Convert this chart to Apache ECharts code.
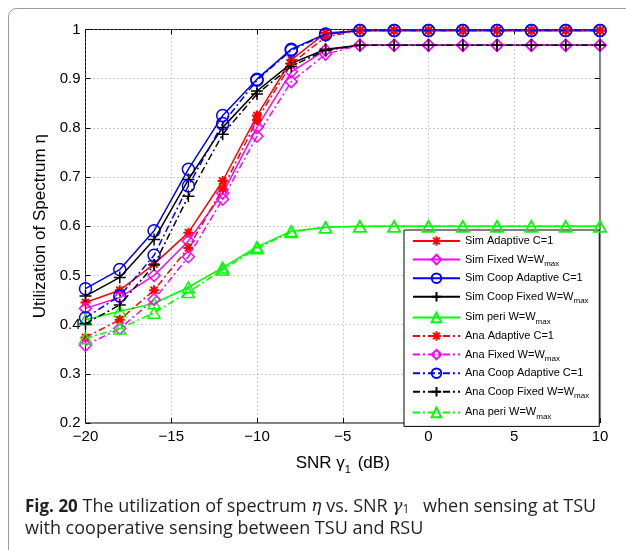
<!DOCTYPE html>
<html>
<head>
<meta charset="utf-8">
<script src="https://cdn.jsdelivr.net/npm/echarts@6/dist/echarts.min.js"></script>
<style>
html,body{margin:0;padding:0;background:#fff;}
#chart{width:626px;height:550px;}
</style>
</head>
<body>
<div id="chart"></div>
<script>
// ---- data ----
const snr = [-20, -18, -16, -14, -12, -10, -8, -6, -4, -2, 0, 2, 4, 6, 8, 10];
const xTicks = [-20, -15, -10, -5, 0, 5, 10];
const yTicks = [0.2, 0.3, 0.4, 0.5, 0.6, 0.7, 0.8, 0.9, 1];

const simAdaptive     = [0.445, 0.470, 0.523, 0.587, 0.692, 0.825, 0.938, 0.993, 0.998, 0.998, 0.998, 0.998, 0.998, 0.998, 0.998, 0.998];
const simFixed        = [0.433, 0.455, 0.500, 0.570, 0.667, 0.801, 0.914, 0.958, 0.968, 0.968, 0.968, 0.968, 0.968, 0.968, 0.968, 0.968];
const simCoopAdaptive = [0.473, 0.512, 0.591, 0.716, 0.825, 0.899, 0.960, 0.991, 0.998, 0.998, 0.998, 0.998, 0.998, 0.998, 0.998, 0.998];
const simCoopFixed    = [0.458, 0.496, 0.573, 0.695, 0.801, 0.875, 0.931, 0.960, 0.968, 0.968, 0.968, 0.968, 0.968, 0.968, 0.968, 0.968];
const simPeri         = [0.410, 0.427, 0.443, 0.476, 0.516, 0.558, 0.590, 0.598, 0.600, 0.600, 0.600, 0.600, 0.600, 0.600, 0.600, 0.600];
const anaAdaptive     = [0.374, 0.410, 0.470, 0.556, 0.676, 0.816, 0.930, 0.985, 0.998, 0.998, 0.998, 0.998, 0.998, 0.998, 0.998, 0.998];
const anaFixed        = [0.358, 0.392, 0.451, 0.538, 0.655, 0.783, 0.894, 0.950, 0.968, 0.968, 0.968, 0.968, 0.968, 0.968, 0.968, 0.968];
const anaCoopAdaptive = [0.414, 0.458, 0.541, 0.682, 0.809, 0.897, 0.958, 0.990, 0.998, 0.998, 0.998, 0.998, 0.998, 0.998, 0.998, 0.998];
const anaCoopFixed    = [0.402, 0.440, 0.521, 0.661, 0.787, 0.869, 0.925, 0.958, 0.968, 0.968, 0.968, 0.968, 0.968, 0.968, 0.968, 0.968];
const anaPeri         = [0.372, 0.392, 0.424, 0.466, 0.512, 0.555, 0.588, 0.598, 0.600, 0.600, 0.600, 0.600, 0.600, 0.600, 0.600, 0.600];

const seriesNames = [
  'Sim Adaptive C=1', 'Sim Fixed W=Wmax', 'Sim Coop Adaptive C=1', 'Sim Coop Fixed W=Wmax', 'Sim peri W=Wmax',
  'Ana Adaptive C=1', 'Ana Fixed W=Wmax', 'Ana Coop Adaptive C=1', 'Ana Coop Fixed W=Wmax', 'Ana peri W=Wmax'
];
const seriesData = [simAdaptive, simFixed, simCoopAdaptive, simCoopFixed, simPeri,
                    anaAdaptive, anaFixed, anaCoopAdaptive, anaCoopFixed, anaPeri];

// ---- styles ----
const SYM = {
  star: 'path://M5 0V10M0 5H10M1.5 1.5L8.5 8.5M8.5 1.5L1.5 8.5',
  diamond: 'path://M5 0L10 5L5 10L0 5Z',
  circle: 'path://M10 5A5 5 0 1 1 0 5A5 5 0 1 1 10 5Z',
  plus: 'path://M5 0V10M0 5H10',
  triangle: 'path://M5 0L10 9L0 9Z'
};
const styles = [
  {c: '#ff0000', s: SYM.star, size: 10, bw: 2},
  {c: '#ff00ff', s: SYM.diamond, size: 12, bw: 1.5},
  {c: '#0000ff', s: SYM.circle, size: 12, bw: 1.5},
  {c: '#000000', s: SYM.plus, size: 12, bw: 1.5},
  {c: '#00ff00', s: SYM.triangle, size: 12, bw: 1.5}
];

const series = seriesData.map((d, i) => {
  const st = styles[i % 5];
  const dashed = i >= 5;
  return {
    name: seriesNames[i],
    type: 'line',
    xAxisIndex: 0,
    yAxisIndex: 0,
    data: snr.map((x, k) => [x, d[k]]),
    symbol: st.s,
    symbolSize: st.size,
    symbolKeepAspect: true,
    showAllSymbol: true,
    lineStyle: {color: st.c, width: 1.5, type: dashed ? [7, 3, 2, 3] : 'solid'},
    itemStyle: {color: 'rgba(0,0,0,0)', borderColor: st.c, borderWidth: st.bw},
    emphasis: {disabled: true},
    z: 2 + i
  };
});

const tickFont = {fontFamily: 'Liberation Sans', fontSize: 15, color: '#000'};
const minusFmt = v => String(v).replace('-', '\u2212');
const tickStyle = {show: true, inside: true, length: 5, lineStyle: {color: '#000'}};

const chart = echarts.init(document.getElementById('chart'), null, {renderer: 'canvas'});
chart.setOption({
  animation: false,
  backgroundColor: '#fff',
  grid: {left: 85.5, right: 26, top: 29.5, bottom: 127, show: true, borderColor: '#000', borderWidth: 1, backgroundColor: 'transparent'},
  xAxis: [{
    type: 'value', min: xTicks[0], max: xTicks[xTicks.length - 1], interval: 5,
    name: '{t|SNR }{g|γ}{s|1}{t| (dB)}', nameLocation: 'middle', nameGap: 29,
    nameTextStyle: {rich: {
      t: {fontFamily: 'Liberation Sans', fontSize: 17, color: '#000'},
      g: {fontFamily: 'Liberation Sans', fontSize: 17, color: '#000'},
      s: {fontFamily: 'Liberation Sans', fontSize: 11, color: '#000', padding: [12, 2, 0, 0]}
    }},
    axisLine: {show: false, onZero: false},
    axisTick: tickStyle,
    axisLabel: Object.assign({margin: 6, formatter: minusFmt}, tickFont),
    splitLine: {show: true, lineStyle: {color: '#999', type: [1, 3], width: 1}}
  }, {
    type: 'value', position: 'top', min: xTicks[0], max: xTicks[xTicks.length - 1], interval: 5,
    axisLine: {show: false, onZero: false}, axisLabel: {show: false}, splitLine: {show: false},
    axisTick: tickStyle
  }],
  yAxis: [{
    type: 'value', min: yTicks[0], max: yTicks[yTicks.length - 1], interval: 0.1,
    name: 'Utilization of Spectrum η', nameLocation: 'middle', nameGap: 37,
    nameTextStyle: {fontFamily: 'Liberation Sans', fontSize: 17, color: '#000'},
    axisLine: {show: false, onZero: false},
    axisTick: tickStyle,
    axisLabel: Object.assign({margin: 5, formatter: v => String(Math.round(v * 10) / 10)}, tickFont),
    splitLine: {show: true, lineStyle: {color: '#999', type: [1, 3], width: 1}}
  }, {
    type: 'value', position: 'right', min: yTicks[0], max: yTicks[yTicks.length - 1], interval: 0.1,
    axisLine: {show: false, onZero: false}, axisLabel: {show: false}, splitLine: {show: false},
    axisTick: tickStyle
  }],
  legend: {
    orient: 'vertical',
    left: 404, top: 230,
    padding: [5, 10, 6, 8],
    itemGap: 4.6,
    itemWidth: 47,
    itemHeight: 12,
    backgroundColor: '#fff',
    borderColor: '#000',
    borderWidth: 1,
    borderRadius: 0,
    selectedMode: false,
    data: seriesNames,
    formatter: n => n.replace('Wmax', 'W{s|max}'),
    textStyle: {
      fontFamily: 'Liberation Sans', fontSize: 11, color: '#000', lineHeight: 12,
      rich: {s: {fontFamily: 'Liberation Sans', fontSize: 8, color: '#000', padding: [8, 0, 0, 0], lineHeight: 12}}
    }
  },
  series: series,
  graphic: [
    {type: 'rect', shape: {x: 8.5, y: 8.5, width: 700, height: 700, r: 8}, style: {fill: 'none', stroke: '#9a9a9a', lineWidth: 1}, z: -10, silent: true},
    {type: 'text', left: 25, top: 496, silent: true,
     style: {
       text: '{b|Fig. 20} The utilization of spectrum {i|η} vs. SNR {i|γ}{s|1} when sensing at TSU\nwith cooperative sensing between TSU and RSU',
       font: '18px "Open Sans"', fill: '#231f20', lineHeight: 22,
       rich: {
         b: {fontFamily: 'Open Sans', fontWeight: 'bold', fontSize: 17, fill: '#231f20', lineHeight: 22},
         i: {fontFamily: 'DejaVu Serif', fontStyle: 'italic', fontSize: 17, fill: '#231f20', lineHeight: 22},
         s: {fontFamily: 'Open Sans', fontSize: 12, fill: '#231f20', padding: [6, 9, 0, 0], lineHeight: 22}
       }
     }}
  ]
});
</script>
</body>
</html>
